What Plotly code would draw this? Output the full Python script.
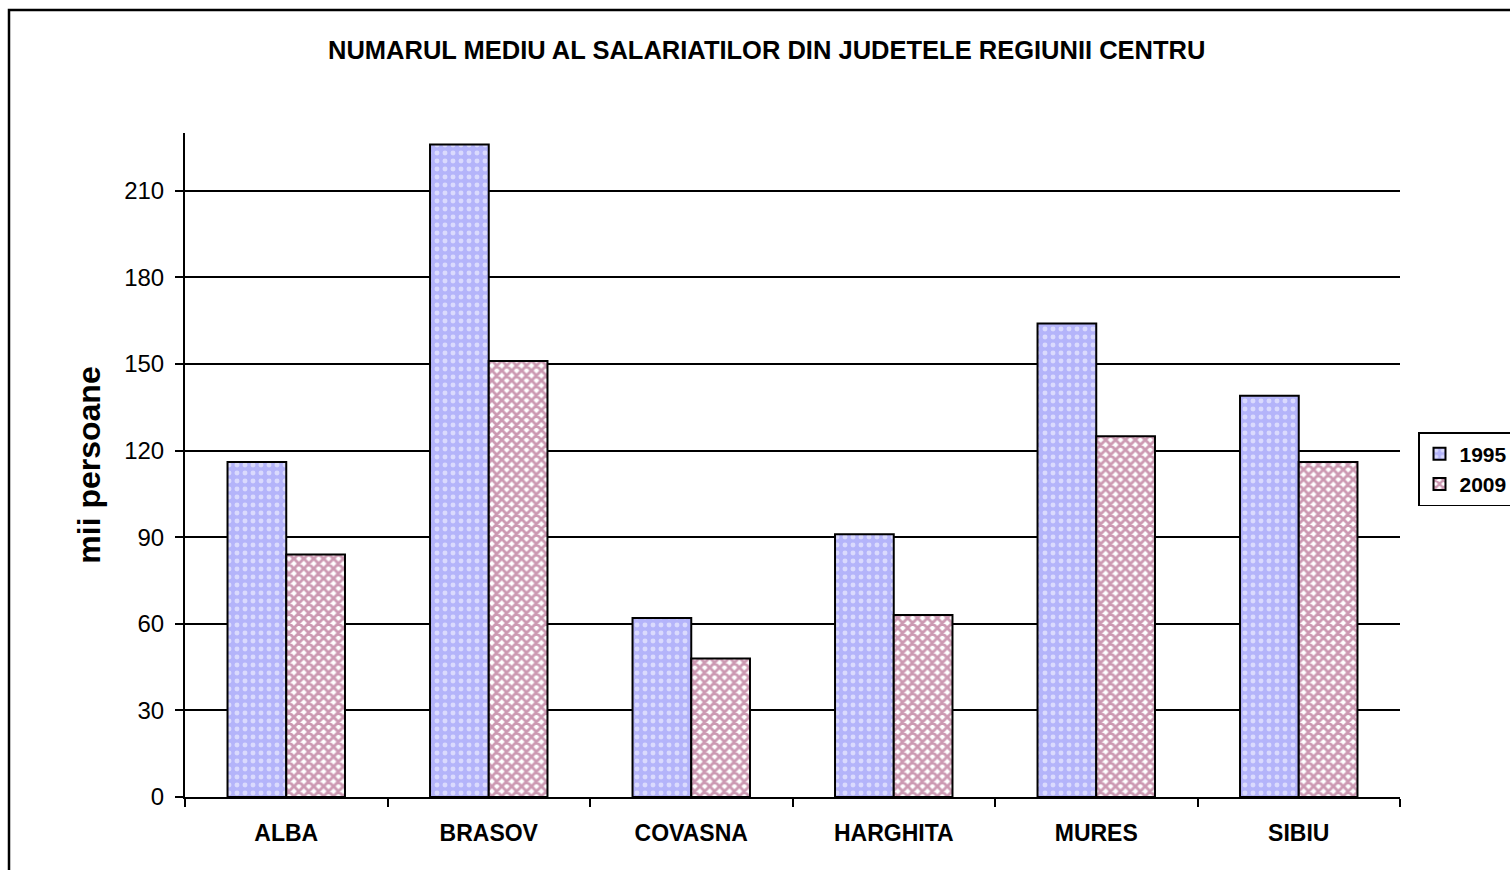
import plotly.graph_objects as go

judete = ["ALBA", "BRASOV", "COVASNA", "HARGHITA", "MURES", "SIBIU"]
val_1995 = [116, 226, 62, 91, 164, 139]
val_2009 = [84, 151, 48, 63, 125, 116]
y_ticks = [0, 30, 60, 90, 120, 150, 180, 210]

W, H = 1510, 870
L, R, T, B = 185, 110, 133, 73
pw, ph = W - L - R, H - T - B

def px_x(p):
    return (p - L) / pw

def px_y(p):
    return (H - B - p) / ph

FONT = "Liberation Sans, Arial"

fig = go.Figure()
fig.add_trace(go.Bar(
    name="<b>1995</b>", x=judete, y=val_1995,
    marker=dict(color="#b4b4fa",
                line=dict(color="black", width=2),
                pattern=dict(shape=".", fgcolor="white", bgcolor="#b4b4fa",
                             size=8, solidity=0.3)),
))
fig.add_trace(go.Bar(
    name="<b>2009</b>", x=judete, y=val_2009,
    marker=dict(color="#993366",
                line=dict(color="black", width=2),
                pattern=dict(shape="x", fgcolor="#993366", bgcolor="white",
                             size=7, solidity=0.65)),
))

fig.update_layout(
    width=W, height=H,
    margin=dict(l=L, r=R, t=T, b=B, autoexpand=False),
    paper_bgcolor="white", plot_bgcolor="white",
    barmode="group", bargap=0.42, bargroupgap=0,
    font=dict(family=FONT, color="black"),
    showlegend=True,
    legend=dict(x=px_x(1418), y=px_y(432), xanchor="left", yanchor="top",
                bordercolor="black", borderwidth=1.5,
                font=dict(size=21, family=FONT, color="black"),
                tracegroupgap=2, itemwidth=30),
    annotations=[
        dict(text="<b>NUMARUL MEDIU AL SALARIATILOR DIN JUDETELE REGIUNII CENTRU</b>",
             xref="paper", yref="paper", x=px_x(766), y=px_y(50),
             xanchor="center", yanchor="middle", showarrow=False,
             font=dict(size=25.5)),
    ],
    shapes=[
        dict(type="rect", xref="paper", yref="paper",
             x0=px_x(9), x1=px_x(1530), y0=px_y(890), y1=px_y(10),
             line=dict(color="black", width=2.5), layer="below"),
    ],
)

fig.update_xaxes(
    type="category", tickson="boundaries", ticks="outside", ticklen=8,
    tickwidth=2, tickcolor="black", showline=True, linecolor="black",
    linewidth=2, showgrid=False,
    tickfont=dict(size=23, family=FONT),
    ticklabelstandoff=14,
    ticktext=[f"<b>{j}</b>" for j in judete], tickvals=judete,
)

fig.update_yaxes(
    range=[0, 230], tickvals=y_ticks, ticks="outside", ticklen=8,
    tickwidth=2, tickcolor="black", showline=True, linecolor="black",
    linewidth=2, showgrid=True, gridcolor="black", gridwidth=2,
    zeroline=False,
    tickfont=dict(size=24, family=FONT),
    ticklabelstandoff=6,
    title=dict(text="<b>mii persoane</b>", font=dict(size=32), standoff=14),
)

fig.write_html("out.html")
